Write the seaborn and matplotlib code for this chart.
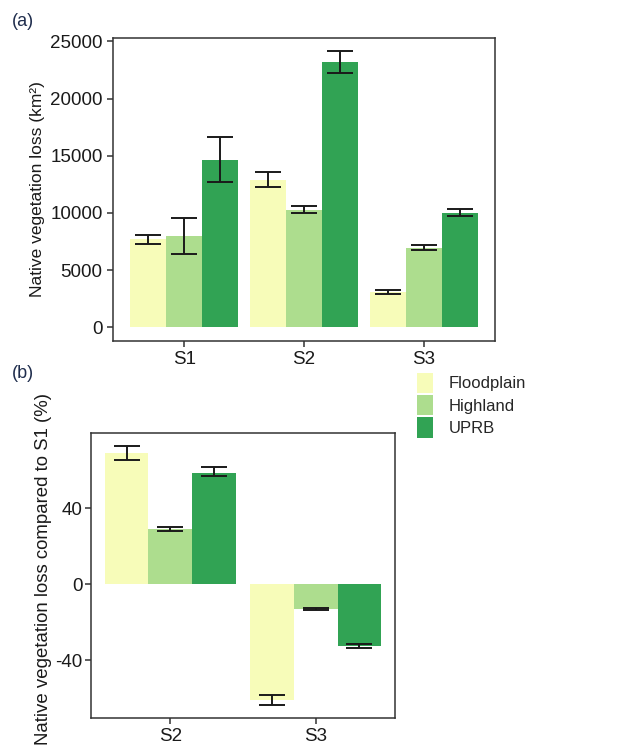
import matplotlib
matplotlib.use("Agg")
import matplotlib.pyplot as plt
from matplotlib.patches import Patch
import numpy as np
import pandas as pd
import seaborn as sns

# dati
regioni = ["Floodplain", "Highland", "UPRB"]
colori = ["#f7fcb9", "#addd8e", "#31a354"]

scen_a = ["S1", "S2", "S3"]
fp_a = [7680, 12880, 3045]
fp_a_lo = [7250, 12240, 2900]
fp_a_hi = [8060, 13600, 3245]
hl_a = [7970, 10290, 6930]
hl_a_lo = [6380, 10000, 6750]
hl_a_hi = [9570, 10580, 7160]
up_a = [14620, 23200, 10000]
up_a_lo = [12730, 22280, 9710]
up_a_hi = [16620, 24130, 10380]

scen_b = ["S2", "S3"]
fp_b = [68.7, -60.8]
fp_b_lo = [65.3, -63.4]
fp_b_hi = [72.7, -58.0]
hl_b = [29.0, -13.0]
hl_b_lo = [28.0, -13.3]
hl_b_hi = [30.0, -12.7]
up_b = [58.5, -32.2]
up_b_lo = [56.6, -33.4]
up_b_hi = [61.3, -31.3]

sns.set_style("white")
plt.rcParams["font.family"] = ["Liberation Sans", "DejaVu Sans"]
plt.rcParams["axes.unicode_minus"] = False

fig = plt.figure(figsize=(6.43, 7.5), dpi=100)
ax_a = fig.add_axes([113/643, 1-341/750, (495-113)/643, (341-38)/750])
ax_b = fig.add_axes([91/643, 1-718/750, (395-91)/643, (718-433)/750])


def pannello(ax, scen, vals, lows, highs):
    df = pd.DataFrame({
        "scenario": list(scen) * 3,
        "regione": [r for r in regioni for _ in scen],
        "valore": [v for serie in vals for v in serie],
    })
    sns.barplot(data=df, x="scenario", y="valore", hue="regione", order=scen,
                hue_order=regioni, palette=colori, width=0.9, errorbar=None,
                saturation=1, linewidth=0, legend=False, ax=ax)
    for cont, lo, hi in zip(ax.containers, lows, highs):
        xs = [p.get_x() + p.get_width() / 2 for p in cont]
        lo = np.array(lo)
        hi = np.array(hi)
        ax.errorbar(xs, (lo + hi) / 2, yerr=(hi - lo) / 2, fmt="none",
                    ecolor="#1a1a1a", elinewidth=1.4, capsize=9.5, capthick=1.4)
    ax.set_xlabel("")
    for s in ax.spines.values():
        s.set_color("#333333")
        s.set_linewidth(1.1)
    ax.tick_params(axis="both", length=4, width=1.1, color="#333333",
                   colors="#1a1a1a", direction="out", bottom=True, left=True)


pannello(ax_a, scen_a, [fp_a, hl_a, up_a], [fp_a_lo, hl_a_lo, up_a_lo],
         [fp_a_hi, hl_a_hi, up_a_hi])
ax_a.set_ylim(-1205, 25305)
ax_a.set_yticks([0, 5000, 10000, 15000, 20000, 25000])
ax_a.set_ylabel("Native vegetation loss (km²)", fontsize=12.5, color="#1a1a1a")
ax_a.tick_params(labelsize=13.5)

pannello(ax_b, scen_b, [fp_b, hl_b, up_b], [fp_b_lo, hl_b_lo, up_b_lo],
         [fp_b_hi, hl_b_hi, up_b_hi])
ax_b.set_ylim(-70.2, 79.4)
ax_b.set_yticks([-40, 0, 40])
ax_b.set_ylabel("")
ax_b.tick_params(labelsize=13.5)
ax_b.tick_params(axis="y", pad=2)
fig.text(44/643, 1-569/750, "Native vegetation loss compared to S1 (%)",
         rotation=90, fontsize=13.4, color="#1a1a1a", ha="center", va="center")

fig.text(12/643, 1-22/750, "(a)", fontsize=13, color="#1f2d4d", va="center")
fig.text(12/643, 1-374/750, "(b)", fontsize=13, color="#1f2d4d", va="center")

maniglie = [Patch(facecolor=c, edgecolor="none") for c in colori]
fig.legend(maniglie, regioni, loc="upper left",
           bbox_to_anchor=(410/643, 1-366/750), frameon=False, fontsize=12,
           handlelength=1.0, handleheight=1.5, labelspacing=0.12,
           handletextpad=0.9, borderaxespad=0)

fig.savefig("out.png", dpi=100)
